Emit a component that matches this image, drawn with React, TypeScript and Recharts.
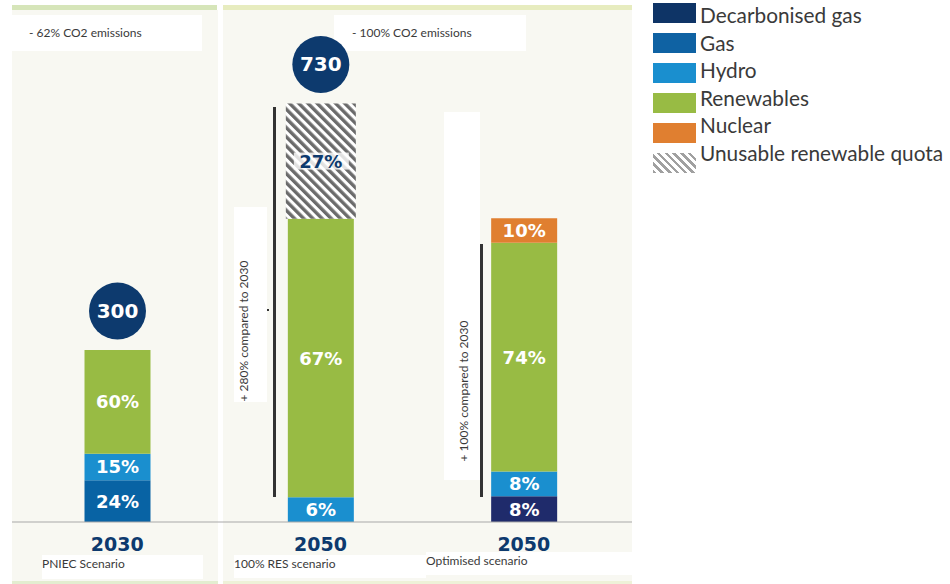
import { BarChart, Bar, XAxis, YAxis, LabelList } from "recharts";

const SCENARIOS = ["PNIEC Scenario", "100% RES scenario", "Optimised scenario"];
const YEARS = ["2030", "2050", "2050"];
const TOTALS = [300, 730, 530];

// segment sizes
const DECARBONISED_GAS = [0, 0, 45];
const GAS = [73, 0, 0];
const HYDRO = [46, 43, 43];
const RENEWABLES = [181, 486, 399];
const NUCLEAR = [0, 0, 43];
const UNUSABLE = [0, 201, 0];

// percentages printed inside the segments
const DECARBONISED_GAS_PCT = [0, 0, 8];
const GAS_PCT = [24, 0, 0];
const HYDRO_PCT = [15, 6, 8];
const RENEWABLES_PCT = [60, 67, 74];
const NUCLEAR_PCT = [0, 0, 10];
const UNUSABLE_PCT = [0, 27, 0];

const CO2_NOTES = ["- 62% CO2 emissions", "- 100% CO2 emissions"];
const GROWTH_NOTES = ["+ 280% compared to 2030", "+ 100% compared to 2030"];

const NAVY = "#0d3a6e";
const PANEL = "#f8f8f2";
const TEXT = "#3a3a3a";
const SANS = "Lato, 'Open Sans', sans-serif";
const DIGITS = "'DejaVu Sans', sans-serif";

const SERIES = [
  { key: "decarbonisedGas", name: "Decarbonised gas", color: "#1f2b6b", legend: "#0e3466", values: DECARBONISED_GAS, pct: DECARBONISED_GAS_PCT },
  { key: "gas", name: "Gas", color: "#0863a4", legend: "#0f62a3", values: GAS, pct: GAS_PCT },
  { key: "hydro", name: "Hydro", color: "#1a8fcf", legend: "#1a8fcf", values: HYDRO, pct: HYDRO_PCT },
  { key: "renewables", name: "Renewables", color: "#98bb44", legend: "#98bb44", values: RENEWABLES, pct: RENEWABLES_PCT },
  { key: "nuclear", name: "Nuclear", color: "#e07f30", legend: "#e07f30", values: NUCLEAR, pct: NUCLEAR_PCT },
  { key: "unusable", name: "Unusable renewable quota", color: "url(#hatch)", legend: "", values: UNUSABLE, pct: UNUSABLE_PCT, hatched: true },
];

const data = SCENARIOS.map((scenario, i) => {
  const row: Record<string, string | number> = { scenario, year: YEARS[i], total: TOTALS[i] };
  SERIES.forEach((s) => {
    row[s.key] = s.values[i];
    row[s.key + "Pct"] = s.pct[i];
  });
  return row;
});

// topmost non-empty segment of each bar carries the total bubble
const topKey = SCENARIOS.map((_, i) => {
  let k = "";
  SERIES.forEach((s) => {
    if (s.values[i] > 0) k = s.key;
  });
  return k;
});

const makeLabel = (s: (typeof SERIES)[number]) => (props: any) => {
  const vb = props.viewBox && props.viewBox.width != null ? props.viewBox : props;
  const { x, y, width, height } = vb;
  const { index, value } = props;
  if (!value) return null;
  const cx = x + width / 2;
  const top = Math.min(y, y + height);
  const cy = top + Math.abs(height) / 2;
  const isTop = topKey[index] === s.key;
  return (
    <g>
      {s.hatched && (
        <rect x={cx - 27} y={cy - 8.5} width={55} height={17} fill="#fff" fillOpacity={0.8} />
      )}
      <text
        x={cx}
        y={cy}
        textAnchor="middle"
        dominantBaseline="central"
        fill={s.hatched ? NAVY : "#fff"}
        fontSize={18}
        fontWeight="bold"
        fontFamily={DIGITS}
      >
        {value}%
      </text>
      {isTop && (
        <g>
          <circle cx={cx} cy={top - 39} r={28.5} fill={NAVY} />
          <text
            x={cx}
            y={top - 39}
            textAnchor="middle"
            dominantBaseline="central"
            fill="#fff"
            fontSize={20}
            fontWeight="bold"
            fontFamily={DIGITS}
          >
            {TOTALS[index]}
          </text>
        </g>
      )}
    </g>
  );
};

const HatchShape = (p: any) => (
  <rect x={p.x - 2} y={p.y} width={p.width + 4} height={p.height} fill="url(#hatch)" />
);

const box = (left: number, top: number, width: number, height: number, extra = {}) => ({
  position: "absolute" as const,
  left,
  top,
  width,
  height,
  background: "#fff",
  ...extra,
});

function Legend() {
  return (
    <div style={{ position: "absolute", left: 653, top: 0 }}>
      {SERIES.map((s, i) => (
        <div key={s.key}>
          <div
            style={{
              position: "absolute",
              left: 0,
              top: 3 + i * 30,
              width: 43,
              height: 20,
              background: s.hatched
                ? "repeating-linear-gradient(45deg, #a0a0a0 0 2.5px, #fff 2.5px 5.5px)"
                : s.legend,
            }}
          />
          <div
            style={{
              position: "absolute",
              left: 47,
              top: 15 + i * 27.5 - 12,
              height: 24,
              lineHeight: "24px",
              whiteSpace: "nowrap",
              fontFamily: SANS,
              fontSize: 20.8,
              color: TEXT,
            }}
          >
            {s.name}
          </div>
        </div>
      ))}
    </div>
  );
}

export default function App() {
  return (
    <div
      style={{
        position: "absolute",
        left: 0,
        top: 0,
        width: 950,
        height: 584,
        background: "#fff",
        overflow: "hidden",
        fontFamily: SANS,
      }}
    >
      {/* panel backgrounds */}
      <div style={box(12, 10, 206, 571, { background: PANEL })} />
      <div style={box(223, 10, 409, 571, { background: PANEL })} />
      <div style={box(12, 5, 205, 5, { background: "#d6e5b9" })} />
      <div style={box(223, 5, 409, 5, { background: "#e7ecbf" })} />
      <div style={box(12, 581, 206, 3, { background: "#e3edd0" })} />
      <div style={box(223, 581, 409, 3, { background: "#eef1d8" })} />

      {/* emission notes */}
      <div style={box(12, 15, 190, 36)} />
      <div style={{ position: "absolute", left: 29, top: 25, fontSize: 12, color: TEXT, whiteSpace: "nowrap" }}>
        {CO2_NOTES[0]}
      </div>
      <div style={box(334, 15, 192, 36)} />
      <div style={{ position: "absolute", left: 352, top: 25, fontSize: 12, color: TEXT, whiteSpace: "nowrap" }}>
        {CO2_NOTES[1]}
      </div>

      {/* growth annotations */}
      <div style={box(234, 207, 33, 195)} />
      <div style={box(272.5, 107, 3, 390, { background: "#333" })} />
      <div style={box(267, 309, 2, 2, { background: "#333" })} />
      <div
        style={{
          position: "absolute",
          left: 243,
          top: 331,
          transform: "translate(-50%, -50%) rotate(-90deg)",
          fontSize: 12,
          color: TEXT,
          whiteSpace: "nowrap",
        }}
      >
        {GROWTH_NOTES[0]}
      </div>
      <div style={box(444, 112, 36, 368)} />
      <div style={box(479.5, 244, 3, 253, { background: "#333" })} />
      <div
        style={{
          position: "absolute",
          left: 463,
          top: 391,
          transform: "translate(-50%, -50%) rotate(-90deg)",
          fontSize: 12,
          color: TEXT,
          whiteSpace: "nowrap",
        }}
      >
        {GROWTH_NOTES[1]}
      </div>

      {/* scenario names */}
      <div style={box(42, 555, 161, 24)} />
      <div style={box(234, 555, 192, 23)} />
      <div style={box(426, 552, 206, 23)} />
      {SCENARIOS.map((s, i) => (
        <div
          key={s}
          style={{
            position: "absolute",
            left: [42, 234, 426][i],
            top: [555, 555, 552][i],
            lineHeight: "17px",
            fontSize: 12,
            color: TEXT,
            whiteSpace: "nowrap",
          }}
        >
          {s}
        </div>
      ))}

      <div style={{ position: "absolute", left: 0, top: 0 }}>
        <BarChart
          width={950}
          height={584}
          data={data}
          barSize={66}
          margin={{ top: 6, right: 318, bottom: 32, left: 12 }}
        >
          <defs>
            <pattern
              id="hatch"
              width="6.5"
              height="6.5"
              patternUnits="userSpaceOnUse"
              patternTransform="rotate(-45)"
            >
              <rect width="6.5" height="6.5" fill="#fff" />
              <rect width="3.4" height="6.5" fill="#6b6b6b" />
            </pattern>
          </defs>
          <XAxis
            dataKey="scenario"
            padding={{ left: 3.5, right: 6.5 }}
            tickLine={false}
            tickMargin={10}
            axisLine={{ stroke: "#a8a8a8" }}
            tickFormatter={(_v: string, i: number) => YEARS[i]}
            tick={{ fill: NAVY, fontSize: 19, fontWeight: "bold", fontFamily: DIGITS }}
            interval={0}
          />
          <YAxis hide domain={[0, 900]} />
          {SERIES.map((s) => (
            <Bar
              key={s.key}
              dataKey={s.key}
              name={s.name}
              stackId="mix"
              fill={s.color}
              shape={s.hatched ? HatchShape : undefined}
              isAnimationActive={false}
            >
              <LabelList dataKey={s.key + "Pct"} content={makeLabel(s)} />
            </Bar>
          ))}
        </BarChart>
      </div>

      <Legend />
    </div>
  );
}
